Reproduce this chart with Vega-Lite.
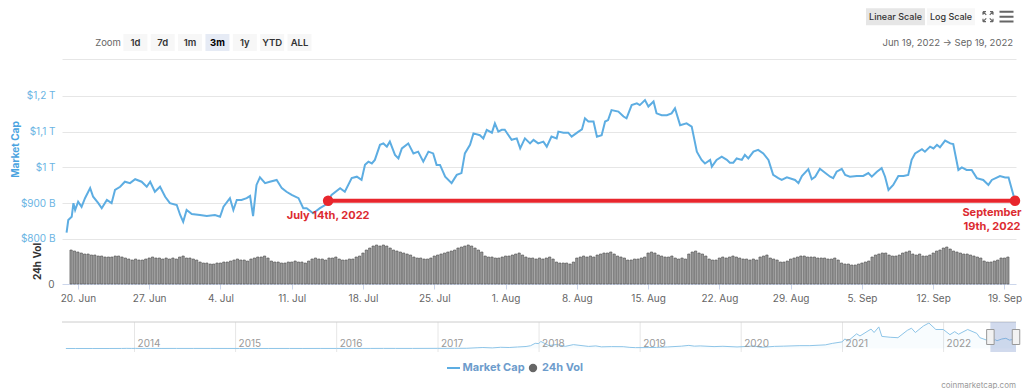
{
  "$schema": "https://vega.github.io/schema/vega-lite/v6.json",
  "autosize": {"type": "none"},
  "padding": {"left": 62, "top": 0, "right": 962, "bottom": 389},
  "bounds": "flush",
  "spacing": 0,
  "config": {"font": "Inter", "view": {"stroke": null}},
  "datasets": {
    "price": [
      {"t":"2022-06-19T09:00","p":818},{"t":"2022-06-19T13:00","p":853},{"t":"2022-06-19T21:00","p":862},{"t":"2022-06-20T01:00","p":900},{"t":"2022-06-20T05:00","p":881},{"t":"2022-06-20T12:00","p":904},{"t":"2022-06-20T20:00","p":890},{"t":"2022-06-21T04:00","p":914},{"t":"2022-06-21T16:00","p":942},{"t":"2022-06-21T23:00","p":918},{"t":"2022-06-22T11:00","p":900},{"t":"2022-06-22T19:00","p":886},{"t":"2022-06-23T07:00","p":909},{"t":"2022-06-23T18:00","p":900},{"t":"2022-06-24T02:00","p":937},{"t":"2022-06-24T14:00","p":946},{"t":"2022-06-25T01:00","p":960},{"t":"2022-06-25T13:00","p":956},{"t":"2022-06-26T01:00","p":967},{"t":"2022-06-26T16:00","p":960},{"t":"2022-06-27T04:00","p":946},{"t":"2022-06-27T12:00","p":960},{"t":"2022-06-27T23:00","p":932},{"t":"2022-06-28T11:00","p":946},{"t":"2022-06-28T23:00","p":918},{"t":"2022-06-29T10:00","p":900},{"t":"2022-06-30T02:00","p":895},{"t":"2022-06-30T10:00","p":867},{"t":"2022-06-30T17:00","p":848},{"t":"2022-07-01T01:00","p":881},{"t":"2022-07-01T13:00","p":870},{"t":"2022-07-02T08:00","p":867},{"t":"2022-07-03T00:00","p":864},{"t":"2022-07-03T19:00","p":867},{"t":"2022-07-04T07:00","p":862},{"t":"2022-07-04T15:00","p":890},{"t":"2022-07-05T06:00","p":914},{"t":"2022-07-05T14:00","p":881},{"t":"2022-07-05T22:00","p":909},{"t":"2022-07-06T09:00","p":909},{"t":"2022-07-06T21:00","p":914},{"t":"2022-07-07T05:00","p":920},{"t":"2022-07-07T12:00","p":864},{"t":"2022-07-07T20:00","p":951},{"t":"2022-07-08T04:00","p":972},{"t":"2022-07-08T16:00","p":956},{"t":"2022-07-09T03:00","p":960},{"t":"2022-07-09T19:00","p":965},{"t":"2022-07-10T07:00","p":942},{"t":"2022-07-10T18:00","p":932},{"t":"2022-07-11T06:00","p":923},{"t":"2022-07-11T22:00","p":914},{"t":"2022-07-12T09:00","p":886},{"t":"2022-07-12T17:00","p":886},{"t":"2022-07-13T08:00","p":872},{"t":"2022-07-14T00:00","p":886},{"t":"2022-07-14T12:00","p":895},{"t":"2022-07-14T19:00","p":907},{"t":"2022-07-15T03:00","p":923},{"t":"2022-07-15T23:00","p":942},{"t":"2022-07-16T10:00","p":932},{"t":"2022-07-17T02:00","p":970},{"t":"2022-07-17T14:00","p":974},{"t":"2022-07-18T01:00","p":965},{"t":"2022-07-18T09:00","p":1007},{"t":"2022-07-18T17:00","p":1016},{"t":"2022-07-19T01:00","p":1011},{"t":"2022-07-19T08:00","p":1021},{"t":"2022-07-19T20:00","p":1063},{"t":"2022-07-20T04:00","p":1067},{"t":"2022-07-20T12:00","p":1058},{"t":"2022-07-20T19:00","p":1072},{"t":"2022-07-21T07:00","p":1035},{"t":"2022-07-21T15:00","p":1025},{"t":"2022-07-21T23:00","p":1053},{"t":"2022-07-22T14:00","p":1067},{"t":"2022-07-23T02:00","p":1039},{"t":"2022-07-23T13:00","p":1044},{"t":"2022-07-24T01:00","p":1016},{"t":"2022-07-24T13:00","p":1044},{"t":"2022-07-25T00:00","p":1039},{"t":"2022-07-25T08:00","p":1007},{"t":"2022-07-25T16:00","p":1007},{"t":"2022-07-26T04:00","p":974},{"t":"2022-07-26T19:00","p":956},{"t":"2022-07-27T07:00","p":979},{"t":"2022-07-27T18:00","p":984},{"t":"2022-07-28T02:00","p":1039},{"t":"2022-07-28T14:00","p":1063},{"t":"2022-07-28T22:00","p":1095},{"t":"2022-07-29T13:00","p":1090},{"t":"2022-07-29T21:00","p":1081},{"t":"2022-07-30T05:00","p":1105},{"t":"2022-07-30T17:00","p":1097},{"t":"2022-07-31T00:00","p":1123},{"t":"2022-07-31T08:00","p":1100},{"t":"2022-07-31T16:00","p":1105},{"t":"2022-07-31T23:00","p":1105},{"t":"2022-08-01T15:00","p":1077},{"t":"2022-08-02T03:00","p":1081},{"t":"2022-08-02T11:00","p":1053},{"t":"2022-08-02T22:00","p":1081},{"t":"2022-08-03T10:00","p":1067},{"t":"2022-08-03T18:00","p":1077},{"t":"2022-08-04T05:00","p":1067},{"t":"2022-08-04T17:00","p":1072},{"t":"2022-08-05T01:00","p":1058},{"t":"2022-08-05T12:00","p":1086},{"t":"2022-08-06T00:00","p":1081},{"t":"2022-08-06T04:00","p":1100},{"t":"2022-08-06T16:00","p":1097},{"t":"2022-08-07T03:00","p":1097},{"t":"2022-08-07T11:00","p":1086},{"t":"2022-08-08T03:00","p":1100},{"t":"2022-08-08T11:00","p":1106},{"t":"2022-08-08T18:00","p":1137},{"t":"2022-08-09T02:00","p":1128},{"t":"2022-08-09T14:00","p":1128},{"t":"2022-08-09T22:00","p":1086},{"t":"2022-08-10T09:00","p":1090},{"t":"2022-08-10T17:00","p":1128},{"t":"2022-08-11T00:00","p":1132},{"t":"2022-08-11T08:00","p":1160},{"t":"2022-08-12T00:00","p":1156},{"t":"2022-08-12T12:00","p":1142},{"t":"2022-08-12T19:00","p":1137},{"t":"2022-08-13T07:00","p":1174},{"t":"2022-08-13T19:00","p":1179},{"t":"2022-08-14T02:00","p":1174},{"t":"2022-08-14T14:00","p":1188},{"t":"2022-08-14T22:00","p":1170},{"t":"2022-08-15T10:00","p":1184},{"t":"2022-08-15T17:00","p":1151},{"t":"2022-08-16T05:00","p":1146},{"t":"2022-08-16T17:00","p":1146},{"t":"2022-08-17T04:00","p":1151},{"t":"2022-08-17T12:00","p":1165},{"t":"2022-08-18T00:00","p":1118},{"t":"2022-08-18T15:00","p":1123},{"t":"2022-08-19T03:00","p":1114},{"t":"2022-08-19T15:00","p":1044},{"t":"2022-08-20T02:00","p":1021},{"t":"2022-08-20T10:00","p":1011},{"t":"2022-08-20T22:00","p":1021},{"t":"2022-08-21T02:00","p":1002},{"t":"2022-08-21T13:00","p":1021},{"t":"2022-08-22T01:00","p":1030},{"t":"2022-08-22T13:00","p":1021},{"t":"2022-08-22T20:00","p":1013},{"t":"2022-08-23T04:00","p":1013},{"t":"2022-08-23T12:00","p":1025},{"t":"2022-08-24T00:00","p":1021},{"t":"2022-08-24T07:00","p":1035},{"t":"2022-08-24T15:00","p":1025},{"t":"2022-08-25T03:00","p":1044},{"t":"2022-08-25T14:00","p":1049},{"t":"2022-08-26T02:00","p":1039},{"t":"2022-08-26T14:00","p":1021},{"t":"2022-08-27T01:00","p":979},{"t":"2022-08-27T13:00","p":970},{"t":"2022-08-27T21:00","p":965},{"t":"2022-08-28T09:00","p":972},{"t":"2022-08-29T04:00","p":965},{"t":"2022-08-29T12:00","p":956},{"t":"2022-08-29T20:00","p":976},{"t":"2022-08-30T11:00","p":995},{"t":"2022-08-30T19:00","p":967},{"t":"2022-08-31T03:00","p":974},{"t":"2022-08-31T14:00","p":996},{"t":"2022-09-01T02:00","p":985},{"t":"2022-09-01T14:00","p":974},{"t":"2022-09-01T21:00","p":970},{"t":"2022-09-02T05:00","p":988},{"t":"2022-09-02T17:00","p":996},{"t":"2022-09-03T01:00","p":979},{"t":"2022-09-03T12:00","p":974},{"t":"2022-09-04T04:00","p":976},{"t":"2022-09-04T19:00","p":976},{"t":"2022-09-05T07:00","p":984},{"t":"2022-09-05T15:00","p":974},{"t":"2022-09-06T03:00","p":988},{"t":"2022-09-06T14:00","p":998},{"t":"2022-09-06T22:00","p":974},{"t":"2022-09-07T06:00","p":937},{"t":"2022-09-07T17:00","p":951},{"t":"2022-09-08T05:00","p":976},{"t":"2022-09-08T17:00","p":976},{"t":"2022-09-09T04:00","p":979},{"t":"2022-09-09T12:00","p":1021},{"t":"2022-09-09T20:00","p":1039},{"t":"2022-09-10T12:00","p":1051},{"t":"2022-09-10T19:00","p":1044},{"t":"2022-09-11T07:00","p":1058},{"t":"2022-09-11T15:00","p":1053},{"t":"2022-09-11T23:00","p":1063},{"t":"2022-09-12T06:00","p":1056},{"t":"2022-09-12T18:00","p":1075},{"t":"2022-09-13T06:00","p":1067},{"t":"2022-09-13T13:00","p":1065},{"t":"2022-09-14T01:00","p":993},{"t":"2022-09-14T09:00","p":1000},{"t":"2022-09-14T20:00","p":993},{"t":"2022-09-15T08:00","p":993},{"t":"2022-09-15T20:00","p":970},{"t":"2022-09-16T11:00","p":965},{"t":"2022-09-16T23:00","p":951},{"t":"2022-09-17T07:00","p":965},{"t":"2022-09-18T02:00","p":976},{"t":"2022-09-18T14:00","p":972},{"t":"2022-09-18T22:00","p":972},{"t":"2022-09-19T13:00","p":907}
    ],
    "vol": [
      {"t":"2022-06-19T08:00","v":136},{"t":"2022-06-19T16:00","v":132},
      {"t":"2022-06-20T00:00","v":128},{"t":"2022-06-20T08:00","v":124},{"t":"2022-06-20T16:00","v":120},
      {"t":"2022-06-21T00:00","v":120},{"t":"2022-06-21T08:00","v":116},{"t":"2022-06-21T16:00","v":116},
      {"t":"2022-06-22T00:00","v":112},{"t":"2022-06-22T08:00","v":112},{"t":"2022-06-22T16:00","v":108},
      {"t":"2022-06-23T00:00","v":108},{"t":"2022-06-23T08:00","v":108},{"t":"2022-06-23T16:00","v":112},
      {"t":"2022-06-24T00:00","v":112},{"t":"2022-06-24T08:00","v":108},{"t":"2022-06-24T16:00","v":104},
      {"t":"2022-06-25T00:00","v":100},{"t":"2022-06-25T08:00","v":96},{"t":"2022-06-25T16:00","v":100},
      {"t":"2022-06-26T00:00","v":96},{"t":"2022-06-26T08:00","v":96},{"t":"2022-06-26T16:00","v":100},
      {"t":"2022-06-27T00:00","v":104},{"t":"2022-06-27T08:00","v":108},{"t":"2022-06-27T16:00","v":104},
      {"t":"2022-06-28T00:00","v":104},{"t":"2022-06-28T08:00","v":100},{"t":"2022-06-28T16:00","v":104},
      {"t":"2022-06-29T00:00","v":100},{"t":"2022-06-29T08:00","v":104},{"t":"2022-06-29T16:00","v":100},
      {"t":"2022-06-30T00:00","v":108},{"t":"2022-06-30T08:00","v":112},{"t":"2022-06-30T16:00","v":104},
      {"t":"2022-07-01T00:00","v":104},{"t":"2022-07-01T08:00","v":100},{"t":"2022-07-01T16:00","v":96},
      {"t":"2022-07-02T00:00","v":88},{"t":"2022-07-02T08:00","v":84},{"t":"2022-07-02T16:00","v":84},
      {"t":"2022-07-03T00:00","v":80},{"t":"2022-07-03T08:00","v":80},{"t":"2022-07-03T16:00","v":84},
      {"t":"2022-07-04T00:00","v":84},{"t":"2022-07-04T08:00","v":88},{"t":"2022-07-04T16:00","v":88},
      {"t":"2022-07-05T00:00","v":92},{"t":"2022-07-05T08:00","v":96},{"t":"2022-07-05T16:00","v":100},
      {"t":"2022-07-06T00:00","v":96},{"t":"2022-07-06T08:00","v":96},{"t":"2022-07-06T16:00","v":92},
      {"t":"2022-07-07T00:00","v":100},{"t":"2022-07-07T08:00","v":104},{"t":"2022-07-07T16:00","v":108},
      {"t":"2022-07-08T00:00","v":108},{"t":"2022-07-08T08:00","v":112},{"t":"2022-07-08T16:00","v":104},
      {"t":"2022-07-09T00:00","v":92},{"t":"2022-07-09T08:00","v":88},{"t":"2022-07-09T16:00","v":88},
      {"t":"2022-07-10T00:00","v":84},{"t":"2022-07-10T08:00","v":84},{"t":"2022-07-10T16:00","v":88},
      {"t":"2022-07-11T00:00","v":88},{"t":"2022-07-11T08:00","v":92},{"t":"2022-07-11T16:00","v":88},
      {"t":"2022-07-12T00:00","v":88},{"t":"2022-07-12T08:00","v":84},{"t":"2022-07-12T16:00","v":92},
      {"t":"2022-07-13T00:00","v":100},{"t":"2022-07-13T08:00","v":104},{"t":"2022-07-13T16:00","v":100},
      {"t":"2022-07-14T00:00","v":100},{"t":"2022-07-14T08:00","v":96},{"t":"2022-07-14T16:00","v":104},
      {"t":"2022-07-15T00:00","v":104},{"t":"2022-07-15T08:00","v":108},{"t":"2022-07-15T16:00","v":100},
      {"t":"2022-07-16T00:00","v":96},{"t":"2022-07-16T08:00","v":96},{"t":"2022-07-16T16:00","v":100},
      {"t":"2022-07-17T00:00","v":100},{"t":"2022-07-17T08:00","v":108},{"t":"2022-07-17T16:00","v":112},
      {"t":"2022-07-18T00:00","v":124},{"t":"2022-07-18T08:00","v":136},{"t":"2022-07-18T16:00","v":144},
      {"t":"2022-07-19T00:00","v":152},{"t":"2022-07-19T08:00","v":156},{"t":"2022-07-19T16:00","v":152},
      {"t":"2022-07-20T00:00","v":156},{"t":"2022-07-20T08:00","v":152},{"t":"2022-07-20T16:00","v":144},
      {"t":"2022-07-21T00:00","v":136},{"t":"2022-07-21T08:00","v":132},{"t":"2022-07-21T16:00","v":128},
      {"t":"2022-07-22T00:00","v":124},{"t":"2022-07-22T08:00","v":120},{"t":"2022-07-22T16:00","v":116},
      {"t":"2022-07-23T00:00","v":108},{"t":"2022-07-23T08:00","v":104},{"t":"2022-07-23T16:00","v":104},
      {"t":"2022-07-24T00:00","v":100},{"t":"2022-07-24T08:00","v":100},{"t":"2022-07-24T16:00","v":104},
      {"t":"2022-07-25T00:00","v":112},{"t":"2022-07-25T08:00","v":116},{"t":"2022-07-25T16:00","v":120},
      {"t":"2022-07-26T00:00","v":124},{"t":"2022-07-26T08:00","v":128},{"t":"2022-07-26T16:00","v":132},
      {"t":"2022-07-27T00:00","v":136},{"t":"2022-07-27T08:00","v":144},{"t":"2022-07-27T16:00","v":148},
      {"t":"2022-07-28T00:00","v":152},{"t":"2022-07-28T08:00","v":156},{"t":"2022-07-28T16:00","v":152},
      {"t":"2022-07-29T00:00","v":144},{"t":"2022-07-29T08:00","v":136},{"t":"2022-07-29T16:00","v":128},
      {"t":"2022-07-30T00:00","v":112},{"t":"2022-07-30T08:00","v":108},{"t":"2022-07-30T16:00","v":108},
      {"t":"2022-07-31T00:00","v":104},{"t":"2022-07-31T08:00","v":104},{"t":"2022-07-31T16:00","v":108},
      {"t":"2022-08-01T00:00","v":112},{"t":"2022-08-01T08:00","v":112},{"t":"2022-08-01T16:00","v":116},
      {"t":"2022-08-02T00:00","v":120},{"t":"2022-08-02T08:00","v":124},{"t":"2022-08-02T16:00","v":116},
      {"t":"2022-08-03T00:00","v":108},{"t":"2022-08-03T08:00","v":104},{"t":"2022-08-03T16:00","v":104},
      {"t":"2022-08-04T00:00","v":100},{"t":"2022-08-04T08:00","v":104},{"t":"2022-08-04T16:00","v":100},
      {"t":"2022-08-05T00:00","v":104},{"t":"2022-08-05T08:00","v":108},{"t":"2022-08-05T16:00","v":100},
      {"t":"2022-08-06T00:00","v":88},{"t":"2022-08-06T08:00","v":84},{"t":"2022-08-06T16:00","v":84},
      {"t":"2022-08-07T00:00","v":84},{"t":"2022-08-07T08:00","v":80},{"t":"2022-08-07T16:00","v":88},
      {"t":"2022-08-08T00:00","v":104},{"t":"2022-08-08T08:00","v":108},{"t":"2022-08-08T16:00","v":112},
      {"t":"2022-08-09T00:00","v":108},{"t":"2022-08-09T08:00","v":112},{"t":"2022-08-09T16:00","v":108},
      {"t":"2022-08-10T00:00","v":116},{"t":"2022-08-10T08:00","v":120},{"t":"2022-08-10T16:00","v":124},
      {"t":"2022-08-11T00:00","v":124},{"t":"2022-08-11T08:00","v":128},{"t":"2022-08-11T16:00","v":120},
      {"t":"2022-08-12T00:00","v":112},{"t":"2022-08-12T08:00","v":108},{"t":"2022-08-12T16:00","v":104},
      {"t":"2022-08-13T00:00","v":96},{"t":"2022-08-13T08:00","v":96},{"t":"2022-08-13T16:00","v":100},
      {"t":"2022-08-14T00:00","v":100},{"t":"2022-08-14T08:00","v":104},{"t":"2022-08-14T16:00","v":108},
      {"t":"2022-08-15T00:00","v":124},{"t":"2022-08-15T08:00","v":128},{"t":"2022-08-15T16:00","v":124},
      {"t":"2022-08-16T00:00","v":116},{"t":"2022-08-16T08:00","v":112},{"t":"2022-08-16T16:00","v":108},
      {"t":"2022-08-17T00:00","v":108},{"t":"2022-08-17T08:00","v":112},{"t":"2022-08-17T16:00","v":104},
      {"t":"2022-08-18T00:00","v":100},{"t":"2022-08-18T08:00","v":104},{"t":"2022-08-18T16:00","v":100},
      {"t":"2022-08-19T00:00","v":120},{"t":"2022-08-19T08:00","v":128},{"t":"2022-08-19T16:00","v":132},
      {"t":"2022-08-20T00:00","v":124},{"t":"2022-08-20T08:00","v":120},{"t":"2022-08-20T16:00","v":112},
      {"t":"2022-08-21T00:00","v":100},{"t":"2022-08-21T08:00","v":96},{"t":"2022-08-21T16:00","v":96},
      {"t":"2022-08-22T00:00","v":104},{"t":"2022-08-22T08:00","v":108},{"t":"2022-08-22T16:00","v":104},
      {"t":"2022-08-23T00:00","v":108},{"t":"2022-08-23T08:00","v":112},{"t":"2022-08-23T16:00","v":108},
      {"t":"2022-08-24T00:00","v":104},{"t":"2022-08-24T08:00","v":100},{"t":"2022-08-24T16:00","v":100},
      {"t":"2022-08-25T00:00","v":96},{"t":"2022-08-25T08:00","v":100},{"t":"2022-08-25T16:00","v":96},
      {"t":"2022-08-26T00:00","v":108},{"t":"2022-08-26T08:00","v":112},{"t":"2022-08-26T16:00","v":116},
      {"t":"2022-08-27T00:00","v":104},{"t":"2022-08-27T08:00","v":100},{"t":"2022-08-27T16:00","v":96},
      {"t":"2022-08-28T00:00","v":88},{"t":"2022-08-28T08:00","v":88},{"t":"2022-08-28T16:00","v":92},
      {"t":"2022-08-29T00:00","v":100},{"t":"2022-08-29T08:00","v":104},{"t":"2022-08-29T16:00","v":108},
      {"t":"2022-08-30T00:00","v":112},{"t":"2022-08-30T08:00","v":112},{"t":"2022-08-30T16:00","v":108},
      {"t":"2022-08-31T00:00","v":108},{"t":"2022-08-31T08:00","v":108},{"t":"2022-08-31T16:00","v":104},
      {"t":"2022-09-01T00:00","v":104},{"t":"2022-09-01T08:00","v":104},{"t":"2022-09-01T16:00","v":100},
      {"t":"2022-09-02T00:00","v":100},{"t":"2022-09-02T08:00","v":104},{"t":"2022-09-02T16:00","v":96},
      {"t":"2022-09-03T00:00","v":84},{"t":"2022-09-03T08:00","v":80},{"t":"2022-09-03T16:00","v":80},
      {"t":"2022-09-04T00:00","v":76},{"t":"2022-09-04T08:00","v":76},{"t":"2022-09-04T16:00","v":80},
      {"t":"2022-09-05T00:00","v":84},{"t":"2022-09-05T08:00","v":88},{"t":"2022-09-05T16:00","v":92},
      {"t":"2022-09-06T00:00","v":108},{"t":"2022-09-06T08:00","v":116},{"t":"2022-09-06T16:00","v":120},
      {"t":"2022-09-07T00:00","v":124},{"t":"2022-09-07T08:00","v":124},{"t":"2022-09-07T16:00","v":116},
      {"t":"2022-09-08T00:00","v":112},{"t":"2022-09-08T08:00","v":112},{"t":"2022-09-08T16:00","v":116},
      {"t":"2022-09-09T00:00","v":124},{"t":"2022-09-09T08:00","v":128},{"t":"2022-09-09T16:00","v":132},
      {"t":"2022-09-10T00:00","v":120},{"t":"2022-09-10T08:00","v":116},{"t":"2022-09-10T16:00","v":120},
      {"t":"2022-09-11T00:00","v":112},{"t":"2022-09-11T08:00","v":112},{"t":"2022-09-11T16:00","v":116},
      {"t":"2022-09-12T00:00","v":124},{"t":"2022-09-12T08:00","v":132},{"t":"2022-09-12T16:00","v":136},
      {"t":"2022-09-13T00:00","v":144},{"t":"2022-09-13T08:00","v":148},{"t":"2022-09-13T16:00","v":140},
      {"t":"2022-09-14T00:00","v":132},{"t":"2022-09-14T08:00","v":128},{"t":"2022-09-14T16:00","v":124},
      {"t":"2022-09-15T00:00","v":120},{"t":"2022-09-15T08:00","v":120},{"t":"2022-09-15T16:00","v":116},
      {"t":"2022-09-16T00:00","v":112},{"t":"2022-09-16T08:00","v":108},{"t":"2022-09-16T16:00","v":104},
      {"t":"2022-09-17T00:00","v":92},{"t":"2022-09-17T08:00","v":88},{"t":"2022-09-17T16:00","v":88},
      {"t":"2022-09-18T00:00","v":92},{"t":"2022-09-18T08:00","v":96},{"t":"2022-09-18T16:00","v":104},
      {"t":"2022-09-19T00:00","v":104},{"t":"2022-09-19T08:00","v":108}
    ],
    "nav": [
      {"t":"2013-04-28T00:00","m":1.6},{"t":"2013-06-01T00:00","m":1.3},{"t":"2013-08-01T00:00","m":1.2},{"t":"2013-10-01T00:00","m":1.6},{"t":"2013-11-15T00:00","m":5},{"t":"2013-12-04T00:00","m":15},{"t":"2013-12-20T00:00","m":8},{"t":"2014-01-05T00:00","m":11},{"t":"2014-02-10T00:00","m":9},{"t":"2014-03-01T00:00","m":7.5},{"t":"2014-04-10T00:00","m":5},{"t":"2014-06-01T00:00","m":8},{"t":"2014-08-01T00:00","m":7.5},{"t":"2014-10-01T00:00","m":5.5},{"t":"2014-12-01T00:00","m":5},{"t":"2015-01-15T00:00","m":3},{"t":"2015-03-01T00:00","m":3.5},{"t":"2015-05-01T00:00","m":3.5},{"t":"2015-07-15T00:00","m":4.5},{"t":"2015-09-01T00:00","m":3.6},{"t":"2015-11-05T00:00","m":6},{"t":"2016-01-01T00:00","m":7},{"t":"2016-03-01T00:00","m":7.5},{"t":"2016-05-01T00:00","m":8.5},{"t":"2016-06-18T00:00","m":12},{"t":"2016-08-01T00:00","m":9.5},{"t":"2016-10-01T00:00","m":10},{"t":"2016-12-31T00:00","m":18},{"t":"2017-03-01T00:00","m":21},{"t":"2017-04-15T00:00","m":27},{"t":"2017-05-25T00:00","m":90},{"t":"2017-06-12T00:00","m":115},{"t":"2017-07-16T00:00","m":70},{"t":"2017-08-15T00:00","m":140},{"t":"2017-09-15T00:00","m":115},{"t":"2017-10-15T00:00","m":175},{"t":"2017-11-15T00:00","m":230},{"t":"2017-12-01T00:00","m":320},{"t":"2017-12-18T00:00","m":600},{"t":"2017-12-31T00:00","m":570},{"t":"2018-01-07T00:00","m":820},{"t":"2018-02-06T00:00","m":330},{"t":"2018-03-05T00:00","m":470},{"t":"2018-04-06T00:00","m":250},{"t":"2018-05-05T00:00","m":450},{"t":"2018-06-29T00:00","m":240},{"t":"2018-07-25T00:00","m":300},{"t":"2018-08-14T00:00","m":190},{"t":"2018-09-20T00:00","m":220},{"t":"2018-11-01T00:00","m":210},{"t":"2018-11-25T00:00","m":130},{"t":"2018-12-15T00:00","m":100},{"t":"2019-01-30T00:00","m":110},{"t":"2019-03-01T00:00","m":125},{"t":"2019-04-10T00:00","m":180},{"t":"2019-05-30T00:00","m":270},{"t":"2019-06-26T00:00","m":360},{"t":"2019-07-16T00:00","m":270},{"t":"2019-08-06T00:00","m":300},{"t":"2019-09-25T00:00","m":220},{"t":"2019-10-27T00:00","m":255},{"t":"2019-12-17T00:00","m":180},{"t":"2020-01-31T00:00","m":260},{"t":"2020-02-14T00:00","m":295},{"t":"2020-03-13T00:00","m":135},{"t":"2020-04-30T00:00","m":245},{"t":"2020-06-01T00:00","m":270},{"t":"2020-07-31T00:00","m":330},{"t":"2020-09-05T00:00","m":330},{"t":"2020-10-31T00:00","m":420},{"t":"2020-11-25T00:00","m":590},{"t":"2020-12-31T00:00","m":770},{"t":"2021-01-09T00:00","m":1100},{"t":"2021-01-22T00:00","m":900},{"t":"2021-02-21T00:00","m":1700},{"t":"2021-03-05T00:00","m":1450},{"t":"2021-04-14T00:00","m":2250},{"t":"2021-04-25T00:00","m":1850},{"t":"2021-05-12T00:00","m":2500},{"t":"2021-05-23T00:00","m":1400},{"t":"2021-06-22T00:00","m":1300},{"t":"2021-07-20T00:00","m":1250},{"t":"2021-08-23T00:00","m":2100},{"t":"2021-09-07T00:00","m":2350},{"t":"2021-09-21T00:00","m":1850},{"t":"2021-10-20T00:00","m":2600},{"t":"2021-11-09T00:00","m":2950},{"t":"2021-12-04T00:00","m":2200},{"t":"2021-12-31T00:00","m":2200},{"t":"2022-01-24T00:00","m":1600},{"t":"2022-02-10T00:00","m":1950},{"t":"2022-02-24T00:00","m":1650},{"t":"2022-03-29T00:00","m":2200},{"t":"2022-05-01T00:00","m":1750},{"t":"2022-05-12T00:00","m":1250},{"t":"2022-06-18T00:00","m":830},{"t":"2022-07-08T00:00","m":1000},{"t":"2022-07-13T00:00","m":900},{"t":"2022-07-30T00:00","m":1100},{"t":"2022-08-14T00:00","m":1180},{"t":"2022-08-27T00:00","m":970},{"t":"2022-09-12T00:00","m":1070},{"t":"2022-09-19T00:00","m":910}
    ]
  },
  "vconcat": [
    {
      "width": 954,
      "height": 59,
      "resolve": {"scale": {"x": "independent"}},
      "layer": [
        {
          "data": {"values": [{"b":"1d"},{"b":"7d"},{"b":"1m"},{"b":"3m"},{"b":"1y"},{"b":"YTD"},{"b":"ALL"}]},
          "mark": {"type": "point", "shape": "M-1.2,-0.85H1.2V0.85H-1.2Z", "size": 400, "filled": true, "opacity": 1, "strokeWidth": 0},
          "encoding": {
            "x": {"field": "b", "type": "nominal", "scale": {"type": "point", "domain": ["Zoom","1d","7d","1m","3m","1y","YTD","ALL"], "range": [46, 237.5], "padding": 0}, "axis": null},
            "y": {"datum": "bottom", "type": "nominal", "scale": {"type": "point", "domain": ["top","bottom"], "range": [16.7, 42.5], "padding": 0}, "axis": null},
            "color": {"condition": {"test": "datum.b === '3m'", "value": "#e6ebf5"}, "value": "#f7f7f7"}
          }
        },
        {
          "data": {"values": [{"b":"1d"},{"b":"7d"},{"b":"1m"},{"b":"1y"},{"b":"YTD"},{"b":"ALL"}]},
          "mark": {"type": "text", "fontSize": 9.5, "fontWeight": 600, "color": "#333333", "align": "center", "baseline": "middle"},
          "encoding": {
            "x": {"field": "b", "type": "nominal", "scale": {"type": "point", "domain": ["Zoom","1d","7d","1m","3m","1y","YTD","ALL"], "range": [46, 237.5], "padding": 0}, "axis": null},
            "y": {"datum": "bottom", "type": "nominal", "scale": {"type": "point", "domain": ["top","bottom"], "range": [16.7, 42.5], "padding": 0}, "axis": null},
            "text": {"field": "b"}
          }
        },
        {
          "data": {"values": [{"b":"3m"}]},
          "mark": {"type": "text", "fontSize": 9.5, "fontWeight": "bold", "color": "#000000", "align": "center", "baseline": "middle"},
          "encoding": {
            "x": {"field": "b", "type": "nominal", "scale": {"type": "point", "domain": ["Zoom","1d","7d","1m","3m","1y","YTD","ALL"], "range": [46, 237.5], "padding": 0}, "axis": null},
            "y": {"datum": "bottom", "type": "nominal", "scale": {"type": "point", "domain": ["top","bottom"], "range": [16.7, 42.5], "padding": 0}, "axis": null},
            "text": {"field": "b"}
          }
        },
        {
          "data": {"values": [{"b":"Zoom"}]},
          "mark": {"type": "text", "fontSize": 9.5, "color": "#666666", "align": "center", "baseline": "middle"},
          "encoding": {
            "x": {"field": "b", "type": "nominal", "scale": {"type": "point", "domain": ["Zoom","1d","7d","1m","3m","1y","YTD","ALL"], "range": [46, 237.5], "padding": 0}, "axis": null},
            "y": {"datum": "bottom", "type": "nominal", "scale": {"type": "point", "domain": ["top","bottom"], "range": [16.7, 42.5], "padding": 0}, "axis": null},
            "text": {"field": "b"}
          }
        },
        {
          "data": {"values": [{"r":"Linear Scale"}]},
          "mark": {"type": "point", "shape": "M-1,-0.288H1V0.288H-1Z", "size": 3481, "filled": true, "opacity": 1, "strokeWidth": 0, "color": "#e6e6e6"},
          "encoding": {
            "x": {"field": "r", "type": "nominal", "scale": {"type": "point", "domain": ["Linear Scale","p1","p2","Log Scale","p3","expand","menu"], "range": [833.5, 944.5], "padding": 0}, "axis": null},
            "y": {"datum": "top", "type": "nominal", "scale": {"type": "point", "domain": ["top","bottom"], "range": [16.7, 42.5], "padding": 0}, "axis": null}
          }
        },
        {
          "data": {"values": [{"r":"Log Scale"}]},
          "mark": {"type": "point", "shape": "M-1,-0.354H1V0.354H-1Z", "size": 2304, "filled": true, "opacity": 1, "strokeWidth": 0, "color": "#f7f7f7"},
          "encoding": {
            "x": {"field": "r", "type": "nominal", "scale": {"type": "point", "domain": ["Linear Scale","p1","p2","Log Scale","p3","expand","menu"], "range": [833.5, 944.5], "padding": 0}, "axis": null},
            "y": {"datum": "top", "type": "nominal", "scale": {"type": "point", "domain": ["top","bottom"], "range": [16.7, 42.5], "padding": 0}, "axis": null}
          }
        },
        {
          "data": {"values": [{"r":"Linear Scale"},{"r":"Log Scale"}]},
          "mark": {"type": "text", "fontSize": 9, "fontWeight": 500, "color": "#333333", "align": "center", "baseline": "middle"},
          "encoding": {
            "x": {"field": "r", "type": "nominal", "scale": {"type": "point", "domain": ["Linear Scale","p1","p2","Log Scale","p3","expand","menu"], "range": [833.5, 944.5], "padding": 0}, "axis": null},
            "y": {"datum": "top", "type": "nominal", "scale": {"type": "point", "domain": ["top","bottom"], "range": [16.7, 42.5], "padding": 0}, "axis": null},
            "text": {"field": "r"}
          }
        },
        {
          "data": {"values": [{"r":"expand"}]},
          "mark": {"type": "point", "shape": "M-0.35,-0.35L-1,-1M-1,-1L-0.4,-1M-1,-1L-1,-0.4M0.35,-0.35L1,-1M1,-1L0.4,-1M1,-1L1,-0.4M-0.35,0.35L-1,1M-1,1L-0.4,1M-1,1L-1,0.4M0.35,0.35L1,1M1,1L0.4,1M1,1L1,0.4", "size": 100, "filled": false, "stroke": "#666666", "strokeWidth": 1.2, "opacity": 1},
          "encoding": {
            "x": {"field": "r", "type": "nominal", "scale": {"type": "point", "domain": ["Linear Scale","p1","p2","Log Scale","p3","expand","menu"], "range": [833.5, 944.5], "padding": 0}, "axis": null},
            "y": {"datum": "top", "type": "nominal", "scale": {"type": "point", "domain": ["top","bottom"], "range": [16.7, 42.5], "padding": 0}, "axis": null}
          }
        },
        {
          "data": {"values": [{"r":"menu"}]},
          "mark": {"type": "point", "shape": "M-1,-0.7L1,-0.7M-1,0L1,0M-1,0.7L1,0.7", "size": 196, "filled": false, "stroke": "#666666", "strokeWidth": 2, "opacity": 1},
          "encoding": {
            "x": {"field": "r", "type": "nominal", "scale": {"type": "point", "domain": ["Linear Scale","p1","p2","Log Scale","p3","expand","menu"], "range": [833.5, 944.5], "padding": 0}, "axis": null},
            "y": {"datum": "top", "type": "nominal", "scale": {"type": "point", "domain": ["top","bottom"], "range": [16.7, 42.5], "padding": 0}, "axis": null}
          }
        },
        {
          "data": {"values": [{"r":"menu","label":"Jun 19, 2022  →  Sep 19, 2022"}]},
          "mark": {"type": "text", "fontSize": 9.5, "color": "#666666", "align": "right", "baseline": "middle", "dx": 6.5},
          "encoding": {
            "x": {"field": "r", "type": "nominal", "scale": {"type": "point", "domain": ["Linear Scale","p1","p2","Log Scale","p3","expand","menu"], "range": [833.5, 944.5], "padding": 0}, "axis": null},
            "y": {"datum": "bottom", "type": "nominal", "scale": {"type": "point", "domain": ["top","bottom"], "range": [16.7, 42.5], "padding": 0}, "axis": null},
            "text": {"field": "label"}
          }
        }
      ]
    },
    {
      "width": 954,
      "height": 185,
      "layer": [
        {
          "data": {"name": "price"},
          "mark": {"type": "line", "color": "#5dade2", "strokeWidth": 2},
          "encoding": {
            "x": {"field": "t", "type": "temporal", "scale": {"domain": [{"year":2022,"month":6,"date":18,"hours":22,"minutes":21},{"year":2022,"month":9,"date":19,"hours":15,"minutes":22}]}, "axis": {"orient": "top", "labels": false, "ticks": false, "grid": false, "domain": true, "domainColor": "#e6e6e6", "title": null}},
            "y": {"field": "p", "type": "quantitative", "scale": {"domain": [786, 1302.8], "nice": false, "zero": false}, "axis": {"values": [800, 900, 1000, 1100, 1200], "labelExpr": "datum.value >= 1000 ? '$' + replace(format(datum.value / 1000, '~g'), '.', ',') + ' T' : '$' + datum.value + ' B'", "labelColor": "#6ab4e3", "labelFontSize": 10, "labelPadding": 7, "ticks": false, "domain": false, "grid": true, "gridColor": "#e6e6e6", "title": "Market Cap", "titleColor": "#4aa3df", "titleFontSize": 10, "titleFontWeight": "bold", "titleX": -47, "titleY": 90, "titleAlign": "center", "titleBaseline": "middle", "titleAngle": -90}}
          }
        },
        {
          "data": {"values": [{"t":"2022-07-14T19:00","p":907},{"t":"2022-09-19T13:00","p":907}]},
          "mark": {"type": "line", "color": "#e8262d", "strokeWidth": 4},
          "encoding": {
            "x": {"field": "t", "type": "temporal", "scale": {"domain": [{"year":2022,"month":6,"date":18,"hours":22,"minutes":21},{"year":2022,"month":9,"date":19,"hours":15,"minutes":22}]}},
            "y": {"field": "p", "type": "quantitative", "scale": {"domain": [786, 1302.8], "nice": false, "zero": false}}
          }
        },
        {
          "data": {"values": [{"t":"2022-07-14T19:00","p":907},{"t":"2022-09-19T13:00","p":907}]},
          "mark": {"type": "circle", "color": "#e8262d", "size": 110, "opacity": 1},
          "encoding": {
            "x": {"field": "t", "type": "temporal", "scale": {"domain": [{"year":2022,"month":6,"date":18,"hours":22,"minutes":21},{"year":2022,"month":9,"date":19,"hours":15,"minutes":22}]}},
            "y": {"field": "p", "type": "quantitative", "scale": {"domain": [786, 1302.8], "nice": false, "zero": false}}
          }
        },
        {
          "data": {"values": [{"t":"2022-07-14T19:00","p":907,"label":"July 14th, 2022"}]},
          "mark": {"type": "text", "color": "#dc2b31", "fontSize": 11, "fontWeight": "bold", "align": "center", "baseline": "middle", "dy": 15},
          "encoding": {
            "x": {"field": "t", "type": "temporal", "scale": {"domain": [{"year":2022,"month":6,"date":18,"hours":22,"minutes":21},{"year":2022,"month":9,"date":19,"hours":15,"minutes":22}]}},
            "y": {"field": "p", "type": "quantitative", "scale": {"domain": [786, 1302.8], "nice": false, "zero": false}},
            "text": {"field": "label"}
          }
        },
        {
          "data": {"values": [{"t":"2022-09-19T13:00","p":907,"label":"September\n19th, 2022"}]},
          "mark": {"type": "text", "color": "#dc2b31", "fontSize": 11, "fontWeight": "bold", "align": "center", "baseline": "top", "dy": 6, "dx": -23, "lineBreak": "\n", "lineHeight": 14},
          "encoding": {
            "x": {"field": "t", "type": "temporal", "scale": {"domain": [{"year":2022,"month":6,"date":18,"hours":22,"minutes":21},{"year":2022,"month":9,"date":19,"hours":15,"minutes":22}]}},
            "y": {"field": "p", "type": "quantitative", "scale": {"domain": [786, 1302.8], "nice": false, "zero": false}},
            "text": {"field": "label"}
          }
        }
      ]
    },
    {
      "width": 954,
      "height": 40,
      "data": {"name": "vol"},
      "mark": {"type": "bar", "width": 2.3, "color": "#9a9a9a", "stroke": "#4a4a4a", "strokeWidth": 0.6},
      "encoding": {
        "x": {"field": "t", "type": "temporal", "scale": {"domain": [{"year":2022,"month":6,"date":18,"hours":22,"minutes":21},{"year":2022,"month":9,"date":19,"hours":15,"minutes":22}]}, "axis": {"values": [{"year":2022,"month":6,"date":20},{"year":2022,"month":6,"date":27},{"year":2022,"month":7,"date":4},{"year":2022,"month":7,"date":11},{"year":2022,"month":7,"date":18},{"year":2022,"month":7,"date":25},{"year":2022,"month":8,"date":1},{"year":2022,"month":8,"date":8},{"year":2022,"month":8,"date":15},{"year":2022,"month":8,"date":22},{"year":2022,"month":8,"date":29},{"year":2022,"month":9,"date":5},{"year":2022,"month":9,"date":12},{"year":2022,"month":9,"date":19}], "format": "%-d. %b", "labelColor": "#666666", "labelFontSize": 10, "labelPadding": 4, "labelFlush": false, "tickColor": "#ccd6eb", "tickSize": 5, "domainColor": "#ccd6eb", "grid": false, "title": null}},
        "y": {"field": "v", "type": "quantitative", "scale": {"domain": [0, 160], "nice": false}, "axis": {"values": [0], "labelColor": "#666666", "labelFontSize": 10, "labelPadding": 8, "ticks": false, "domain": false, "grid": false, "title": "24h Vol", "titleColor": "#333333", "titleFontSize": 10, "titleFontWeight": "bold", "titleX": -25, "titleY": 17, "titleAlign": "center", "titleBaseline": "middle", "titleAngle": -90}}
      }
    },
    {
      "width": 954,
      "height": 68,
      "layer": [
        {
          "data": {"values": [{"y":"2014-01-01T00:00"},{"y":"2015-01-01T00:00"},{"y":"2016-01-01T00:00"},{"y":"2017-01-01T00:00"},{"y":"2018-01-01T00:00"},{"y":"2019-01-01T00:00"},{"y":"2020-01-01T00:00"},{"y":"2021-01-01T00:00"},{"y":"2022-01-01T00:00"}]},
          "mark": {"type": "rule", "color": "#e6e6e6", "strokeWidth": 1},
          "encoding": {
            "x": {"field": "y", "type": "temporal", "scale": {"domain": [{"year":2013,"month":4,"date":14},{"year":2022,"month":9,"date":19,"hours":12}]}, "axis": null},
            "y": {"datum": -405, "type": "quantitative", "scale": {"domain": [-405, 7463], "nice": false, "zero": false}, "axis": null},
            "y2": {"datum": 3066}
          }
        },
        {
          "data": {"name": "nav"},
          "mark": {"type": "area", "color": "#8ec5e8", "fillOpacity": 0.06, "line": {"color": "#8ec5e8", "strokeWidth": 1}},
          "encoding": {
            "x": {"field": "t", "type": "temporal", "scale": {"domain": [{"year":2013,"month":4,"date":14},{"year":2022,"month":9,"date":19,"hours":12}]}, "axis": null},
            "y": {"field": "m", "type": "quantitative", "scale": {"domain": [-405, 7463], "nice": false, "zero": false}, "axis": null}
          }
        },
        {
          "data": {"values": [{"a":"2013-04-14T00:00","b":"2022-09-19T12:00"}]},
          "mark": {"type": "rule", "color": "#cccccc", "strokeWidth": 1},
          "encoding": {
            "x": {"field": "a", "type": "temporal", "scale": {"domain": [{"year":2013,"month":4,"date":14},{"year":2022,"month":9,"date":19,"hours":12}]}, "axis": null},
            "x2": {"field": "b"},
            "y": {"datum": 3066, "type": "quantitative", "scale": {"domain": [-405, 7463], "nice": false, "zero": false}, "axis": null}
          }
        },
        {
          "data": {"values": [{"a":"2022-06-19T00:00","b":"2022-09-19T12:00"}]},
          "mark": {"type": "rect", "color": "#6685c2", "opacity": 0.3},
          "encoding": {
            "x": {"field": "a", "type": "temporal", "scale": {"domain": [{"year":2013,"month":4,"date":14},{"year":2022,"month":9,"date":19,"hours":12}]}, "axis": null},
            "x2": {"field": "b"},
            "y": {"datum": -405, "type": "quantitative", "scale": {"domain": [-405, 7463], "nice": false, "zero": false}, "axis": null},
            "y2": {"datum": 3066}
          }
        },
        {
          "data": {"values": [{"h":"2022-06-19T00:00"},{"h":"2022-09-19T12:00"}]},
          "mark": {"type": "point", "shape": "M-0.5,-1H0.5V1H-0.5Z", "size": 225, "filled": true, "fill": "#f2f2f2", "stroke": "#999999", "strokeWidth": 1, "opacity": 1},
          "encoding": {
            "x": {"field": "h", "type": "temporal", "scale": {"domain": [{"year":2013,"month":4,"date":14},{"year":2022,"month":9,"date":19,"hours":12}]}, "axis": null},
            "y": {"datum": 1330, "type": "quantitative", "scale": {"domain": [-405, 7463], "nice": false, "zero": false}, "axis": null}
          }
        },
        {
          "data": {"values": [{"y":"2014-01-01T00:00","l":"2014"},{"y":"2015-01-01T00:00","l":"2015"},{"y":"2016-01-01T00:00","l":"2016"},{"y":"2017-01-01T00:00","l":"2017"},{"y":"2018-01-01T00:00","l":"2018"},{"y":"2019-01-01T00:00","l":"2019"},{"y":"2020-01-01T00:00","l":"2020"},{"y":"2021-01-01T00:00","l":"2021"},{"y":"2022-01-01T00:00","l":"2022"}]},
          "mark": {"type": "text", "color": "#999999", "fontSize": 10, "align": "left", "baseline": "middle", "dx": 3},
          "encoding": {
            "x": {"field": "y", "type": "temporal", "scale": {"domain": [{"year":2013,"month":4,"date":14},{"year":2022,"month":9,"date":19,"hours":12}]}, "axis": null},
            "y": {"datum": 520, "type": "quantitative", "scale": {"domain": [-405, 7463], "nice": false, "zero": false}, "axis": null},
            "text": {"field": "l"}
          }
        }
      ]
    },
    {
      "width": 954,
      "height": 32,
      "title": {"text": "coinmarketcap.com", "orient": "bottom", "anchor": "end", "fontSize": 8, "fontWeight": "normal", "color": "#999999", "offset": -2},
      "layer": [
        {
          "data": {"values": [{"s":"Market Cap"}]},
          "mark": {"type": "point", "shape": "M-1,0H1", "size": 169, "filled": false, "stroke": "#5dade2", "strokeWidth": 2, "opacity": 1},
          "encoding": {
            "x": {"field": "s", "type": "nominal", "scale": {"type": "point", "domain": ["Market Cap","24h Vol"], "range": [391.5, 471], "padding": 0}, "axis": null}
          }
        },
        {
          "data": {"values": [{"s":"24h Vol"}]},
          "mark": {"type": "circle", "size": 70, "color": "#666666", "opacity": 1},
          "encoding": {
            "x": {"field": "s", "type": "nominal", "scale": {"type": "point", "domain": ["Market Cap","24h Vol"], "range": [391.5, 471], "padding": 0}, "axis": null}
          }
        },
        {
          "data": {"values": [{"s":"Market Cap"},{"s":"24h Vol"}]},
          "mark": {"type": "text", "align": "left", "baseline": "middle", "dx": 9, "fontSize": 11, "fontWeight": "bold", "color": "#6d9ccc"},
          "encoding": {
            "x": {"field": "s", "type": "nominal", "scale": {"type": "point", "domain": ["Market Cap","24h Vol"], "range": [391.5, 471], "padding": 0}, "axis": null},
            "text": {"field": "s"}
          }
        }
      ]
    }
  ]
}
